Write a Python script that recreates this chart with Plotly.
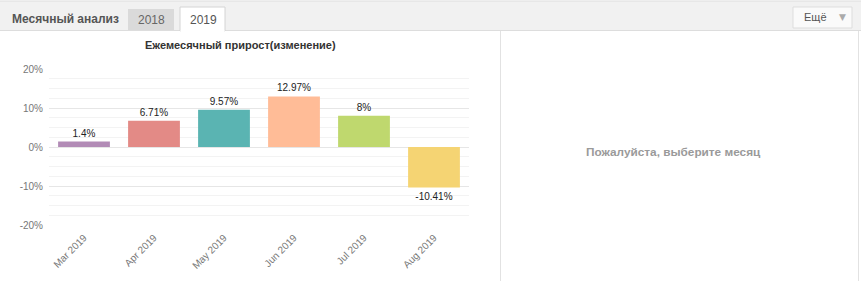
import plotly.graph_objects as go

W, H = 861, 281
months = ["Mar 2019", "Apr 2019", "May 2019", "Jun 2019", "Jul 2019", "Aug 2019"]
growth = [1.4, 6.71, 9.57, 12.97, 8, -10.41]
labels = ["1.4%", "6.71%", "9.57%", "12.97%", "8%", "-10.41%"]
colors = ["#B28BB6", "#E38A86", "#5AB4B2", "#FFBC97", "#BFD86E", "#F5D473"]
y_ticks = [-20, -10, 0, 10, 20]
y_tick_text = ["-20%", "-10%", "0%", "10%", "20%"]
title = "Ежемесячный прирост(изменение)"
header_title = "Месячный анализ"
tabs = ["2018", "2019"]
more_label = "Ещё"
placeholder = "Пожалуйста, выберите месяц"

def px(x):
    return x / W

def py(y):
    return 1 - y / H

fig = go.Figure()
fig.add_trace(go.Bar(
    x=months, y=growth, marker_color=colors, marker_line_width=0,
    width=0.74, text=labels, textposition="outside", cliponaxis=False,
    textfont=dict(size=10, color="#222", family="Liberation Sans"),
    hoverinfo="skip",
))

shapes = []
shapes.append(dict(type="rect", xref="paper", yref="paper", x0=0, x1=1, y0=py(30), y1=py(1),
                   fillcolor="#F1F1F1", line=dict(width=0), layer="below"))
shapes.append(dict(type="line", xref="paper", yref="paper", x0=0, x1=1, y0=py(1), y1=py(1),
                   line=dict(color="#DDDDDD", width=1)))
shapes.append(dict(type="line", xref="paper", yref="paper", x0=0, x1=1, y0=py(30.5), y1=py(30.5),
                   line=dict(color="#DDDDDD", width=1)))
shapes.append(dict(type="rect", xref="paper", yref="paper", x0=px(128), x1=px(174), y0=py(30), y1=py(9),
                   fillcolor="#DADADA", line=dict(width=0)))
shapes.append(dict(type="rect", xref="paper", yref="paper", x0=px(180), x1=px(225), y0=py(31), y1=py(7),
                   fillcolor="#FFFFFF", line=dict(color="#D4D4D4", width=1)))
shapes.append(dict(type="line", xref="paper", yref="paper", x0=px(180.5), x1=px(224.5), y0=py(31), y1=py(31),
                   line=dict(color="#FFFFFF", width=2)))
shapes.append(dict(type="rect", xref="paper", yref="paper", x0=px(793), x1=px(852), y0=py(28), y1=py(7),
                   fillcolor="#FAFAFA", line=dict(color="#DDDDDD", width=1)))
shapes.append(dict(type="line", xref="paper", yref="paper", x0=px(500.5), x1=px(500.5), y0=0, y1=py(31),
                   line=dict(color="#E2E2E2", width=1)))
shapes.append(dict(type="line", xref="paper", yref="paper", x0=px(858.5), x1=px(858.5), y0=0, y1=py(31),
                   line=dict(color="#E2E2E2", width=1)))

annotations = [
    dict(text=f"<b>{header_title}</b>", x=px(10), y=py(19), xref="paper", yref="paper",
         xanchor="left", yanchor="middle", showarrow=False,
         font=dict(size=12, color="#555555", family="Liberation Sans")),
    dict(text=tabs[0], x=px(151), y=py(20), xref="paper", yref="paper",
         xanchor="center", yanchor="middle", showarrow=False,
         font=dict(size=12, color="#666666", family="Liberation Sans")),
    dict(text=tabs[1], x=px(203), y=py(20), xref="paper", yref="paper",
         xanchor="center", yanchor="middle", showarrow=False,
         font=dict(size=12, color="#555555", family="Liberation Sans")),
    dict(text=more_label, x=px(815), y=py(17.5), xref="paper", yref="paper",
         xanchor="center", yanchor="middle", showarrow=False,
         font=dict(size=11, color="#555555", family="Liberation Sans")),
    dict(text="▼", x=px(842), y=py(17.5), xref="paper", yref="paper",
         xanchor="center", yanchor="middle", showarrow=False,
         font=dict(size=9, color="#AAAAAA", family="DejaVu Sans")),
    dict(text=f"<b>{title}</b>", x=px(241), y=py(45), xref="paper", yref="paper",
         xanchor="center", yanchor="middle", showarrow=False,
         font=dict(size=11, color="#333333", family="Liberation Sans")),
    dict(text=f"<b>{placeholder}</b>", x=px(673), y=py(152), xref="paper", yref="paper",
         xanchor="center", yanchor="middle", showarrow=False,
         font=dict(size=11.8, color="#9A9A9A", family="Liberation Sans")),
]

fig.update_layout(
    width=W, height=H, margin=dict(l=0, r=0, t=0, b=0),
    paper_bgcolor="white", plot_bgcolor="white", showlegend=False,
    shapes=shapes, annotations=annotations,
    xaxis=dict(domain=[px(49), px(469)], showgrid=False, zeroline=False, showline=False,
               tickangle=-45, tickfont=dict(size=10, color="#777777", family="Liberation Sans"),
               ticks="", ticklabelstandoff=4, automargin=False, fixedrange=True),
    yaxis=dict(domain=[1 - 225 / H, 1 - 69 / H], range=[-20, 20], tickvals=y_ticks,
               ticktext=y_tick_text, showgrid=True, gridcolor="#E6E6E6", gridwidth=1,
               zeroline=False, showline=False, ticks="", ticklabelstandoff=5,
               tickfont=dict(size=10, color="#777777", family="Liberation Sans"),
               minor=dict(dtick=2.5, tick0=0, showgrid=True, gridcolor="#F3F3F3", gridwidth=1),
               automargin=False, fixedrange=True),
    bargap=0.26,
)

fig.write_html("out.html", config={"displayModeBar": False})
